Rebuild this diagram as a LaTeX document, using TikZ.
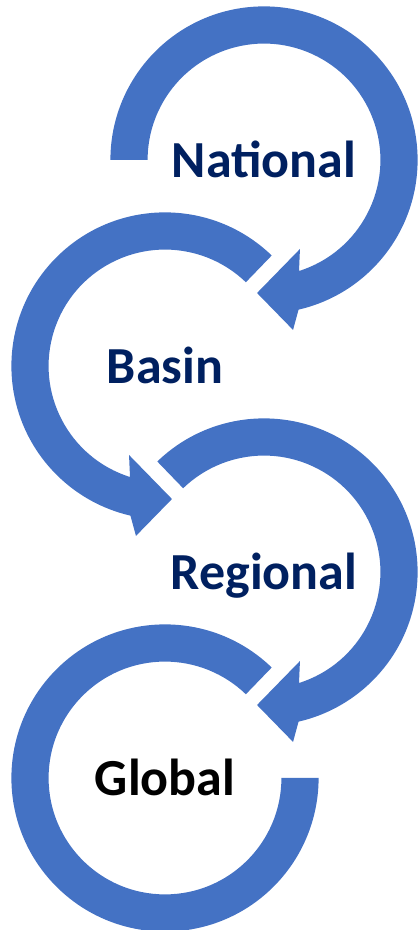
\documentclass[tikz,border=0pt]{standalone}
\usepackage{fontspec}
\setmainfont{Carlito}
\usetikzlibrary{positioning, calc}
\definecolor{ringblue}{HTML}{4472C4}
\definecolor{navy}{HTML}{002060}
\newcommand{\rout}{3.84cm}
\newcommand{\rin}{2.91cm}

\begin{document}
\begin{tikzpicture}
    [
        node distance=5.15cm and 2.475cm, on grid,
        ring_arrow/.style={fill=ringblue, draw=none},
        level_label/.style={font=\fontsize{37}{40}\selectfont\bfseries, text=navy, text height=25pt, text depth=0pt, inner sep=0pt},
    ]
        \useasboundingbox (0,0) rectangle (10.475,23.25);
        \node[level_label] (national) at (6.6,19.25) {National} ;
        \node[level_label] (basin) [below left = of national] {Basin} ;
        \node[level_label] (regional) [below right = of basin] {Regional} ;
        \node[level_label, text=black] (global) [below left = of regional] {Global} ;
        % clockwise rings
        \fill[ring_arrow] ($(national)+(180:\rout)$) arc[start angle=180, end angle=-77, radius=\rout]
            -- ($(national)+(-80.3:4.31)$) -- ($(national)+(-93:3.33)$) -- ($(national)+(-68:2.4)$)
            -- ($(national)+(-72.5:\rin)$) arc[start angle=-72.5, end angle=180, radius=\rin] -- cycle ;
        \fill[ring_arrow] ($(regional)+(134:\rout)$) arc[start angle=134, end angle=-77, radius=\rout]
            -- ($(regional)+(-80.3:4.31)$) -- ($(regional)+(-93:3.33)$) -- ($(regional)+(-68:2.4)$)
            -- ($(regional)+(-72.5:\rin)$) arc[start angle=-72.5, end angle=134, radius=\rin] -- cycle ;
        % counter-clockwise rings
        \fill[ring_arrow] ($(basin)+(46:\rout)$) arc[start angle=46, end angle=257, radius=\rout]
            -- ($(basin)+(260.3:4.31)$) -- ($(basin)+(273:3.33)$) -- ($(basin)+(248:2.4)$)
            -- ($(basin)+(252.5:\rin)$) arc[start angle=252.5, end angle=46, radius=\rin] -- cycle ;
        \fill[ring_arrow] ($(global)+(46:\rout)$) arc[start angle=46, end angle=360, radius=\rout]
            -- ($(global)+(0:\rin)$) arc[start angle=360, end angle=46, radius=\rin] -- cycle ;
    \end{tikzpicture}
\end{document}
